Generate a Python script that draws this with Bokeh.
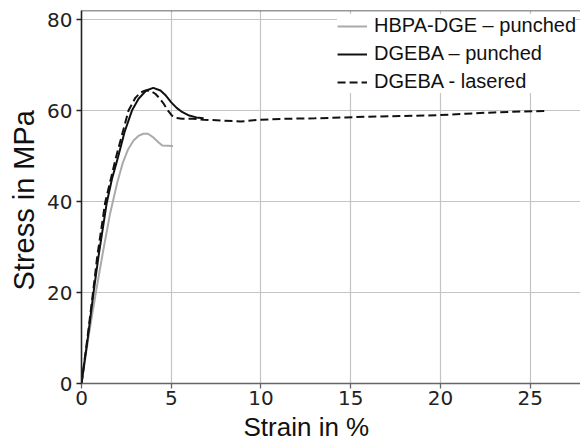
from bokeh.plotting import figure
from bokeh.models import Range1d, Span, Title, Legend, LegendItem, FixedTicker
from bokeh.embed import file_html
from bokeh.resources import INLINE

# ---- data ----
hbpa_strain = [0, 0.4, 0.8, 1.2, 1.6, 2.0, 2.3, 2.6, 2.9, 3.2, 3.45, 3.7, 4.0, 4.3, 4.5, 5.1]
hbpa_stress = [0, 10.5, 20, 29, 37.5, 44.3, 48.5, 51.5, 53.4, 54.5, 54.9, 54.9, 54.1, 53.0, 52.3, 52.2]

dgeba_p_strain = [0, 0.35, 0.67, 0.95, 1.41, 1.7, 2.03, 2.4, 2.81, 3.18, 3.6, 4.0,
                  4.4, 4.7, 5.0, 5.3, 5.6, 6.0, 6.4, 6.8]
dgeba_p_stress = [0, 10, 20, 28, 39.8, 45.0, 49.7, 55.3, 60.0, 62.6, 64.4, 65.0,
                  64.4, 63.3, 61.8, 60.6, 59.7, 58.9, 58.5, 58.3]

dgeba_l_strain = [0, 0.33, 0.64, 0.88, 1.32, 1.92, 2.62, 3.0, 3.3, 3.57, 3.85, 4.11,
                  4.35, 4.58, 4.8, 5.04, 5.25, 5.6, 6.2, 6.82, 7.8, 8.87, 9.99,
                  11.48, 13.0, 14.7, 16.5, 18.0, 19.9, 21.4, 23.0, 24.5, 25.8]
dgeba_l_stress = [0, 10, 20, 28, 39.8, 49.7, 60, 62.8, 64.0, 64.4, 64.3, 63.7,
                  62.7, 61.5, 60.1, 58.9, 58.4, 58.2, 58.2, 58.0, 57.8, 57.6, 58.0,
                  58.2, 58.3, 58.5, 58.7, 58.8, 59.0, 59.3, 59.6, 59.8, 59.9]

x_ticks = [0, 5, 10, 15, 20, 25]
y_ticks = [0, 20, 40, 60, 80]
series_labels = ["HBPA-DGE – punched", "DGEBA – punched", "DGEBA - lasered"]
x_title = "Strain in %"
y_title = "Stress in MPa"

X_MAX = 27.8
Y_MAX = 82

p = figure(width=580, height=445, x_range=Range1d(0, X_MAX), y_range=Range1d(0, Y_MAX),
           output_backend="svg", toolbar_location=None,
           min_border_left=81, min_border_right=0, min_border_top=10, min_border_bottom=62)
p.outline_line_color = None
p.background_fill_color = "white"

for ax, ticks in ((p.xaxis[0], x_ticks), (p.yaxis[0], y_ticks)):
    ax.ticker = FixedTicker(ticks=ticks)
    ax.minor_tick_line_color = None
    ax.major_tick_in = 0
    ax.major_tick_out = 5
    ax.major_tick_line_width = 1.3
    ax.major_label_text_font = "DejaVu Sans"
    ax.major_label_text_font_size = "20px"
    ax.major_label_text_color = "#222222"
    ax.axis_line_width = 1.6

p.yaxis.axis_line_color = "#222222"
p.yaxis.major_tick_line_color = "#222222"
p.yaxis.major_label_standoff = 4
p.xaxis.axis_line_color = "#666666"
p.xaxis.major_tick_line_color = "#666666"
p.xaxis.major_label_standoff = 2

p.xgrid.ticker = FixedTicker(ticks=x_ticks)
p.ygrid.ticker = FixedTicker(ticks=y_ticks)
p.grid.grid_line_color = "#c4c4c4"
p.grid.grid_line_width = 1.2

p.add_layout(Span(location=Y_MAX, dimension="width", line_color="#333333", line_width=1.6))

r1 = p.line(hbpa_strain, hbpa_stress, line_color="#aaaaaa", line_width=2)
r2 = p.line(dgeba_p_strain, dgeba_p_stress, line_color="#111111", line_width=2)
r3 = p.line(dgeba_l_strain, dgeba_l_stress, line_color="#111111", line_width=2, line_dash="8 4")

legend = Legend(items=[LegendItem(label=series_labels[0], renderers=[r1]),
                       LegendItem(label=series_labels[1], renderers=[r2]),
                       LegendItem(label=series_labels[2], renderers=[r3])],
                location="top_right")
legend.border_line_color = None
legend.background_fill_color = "white"
legend.background_fill_alpha = 1.0
legend.label_text_font = "Liberation Sans"
legend.label_text_font_size = "20px"
legend.label_text_color = "#111111"
legend.glyph_width = 30
legend.glyph_height = 20
legend.label_height = 20
legend.label_standoff = 7
legend.spacing = 5
legend.padding = 5
legend.margin = 4
p.add_layout(legend)

xt = Title(text=x_title, align="left", offset=162, text_font="Liberation Sans",
           text_font_size="26px", text_font_style="normal", text_color="#111111", standoff=5)
p.add_layout(xt, "below")
yt = Title(text=y_title, align="left", offset=93, text_font="Liberation Sans",
           text_font_size="29px", text_font_style="normal", text_color="#111111", standoff=9)
p.add_layout(yt, "left")

open("out.html", "w").write(file_html(p, INLINE))
